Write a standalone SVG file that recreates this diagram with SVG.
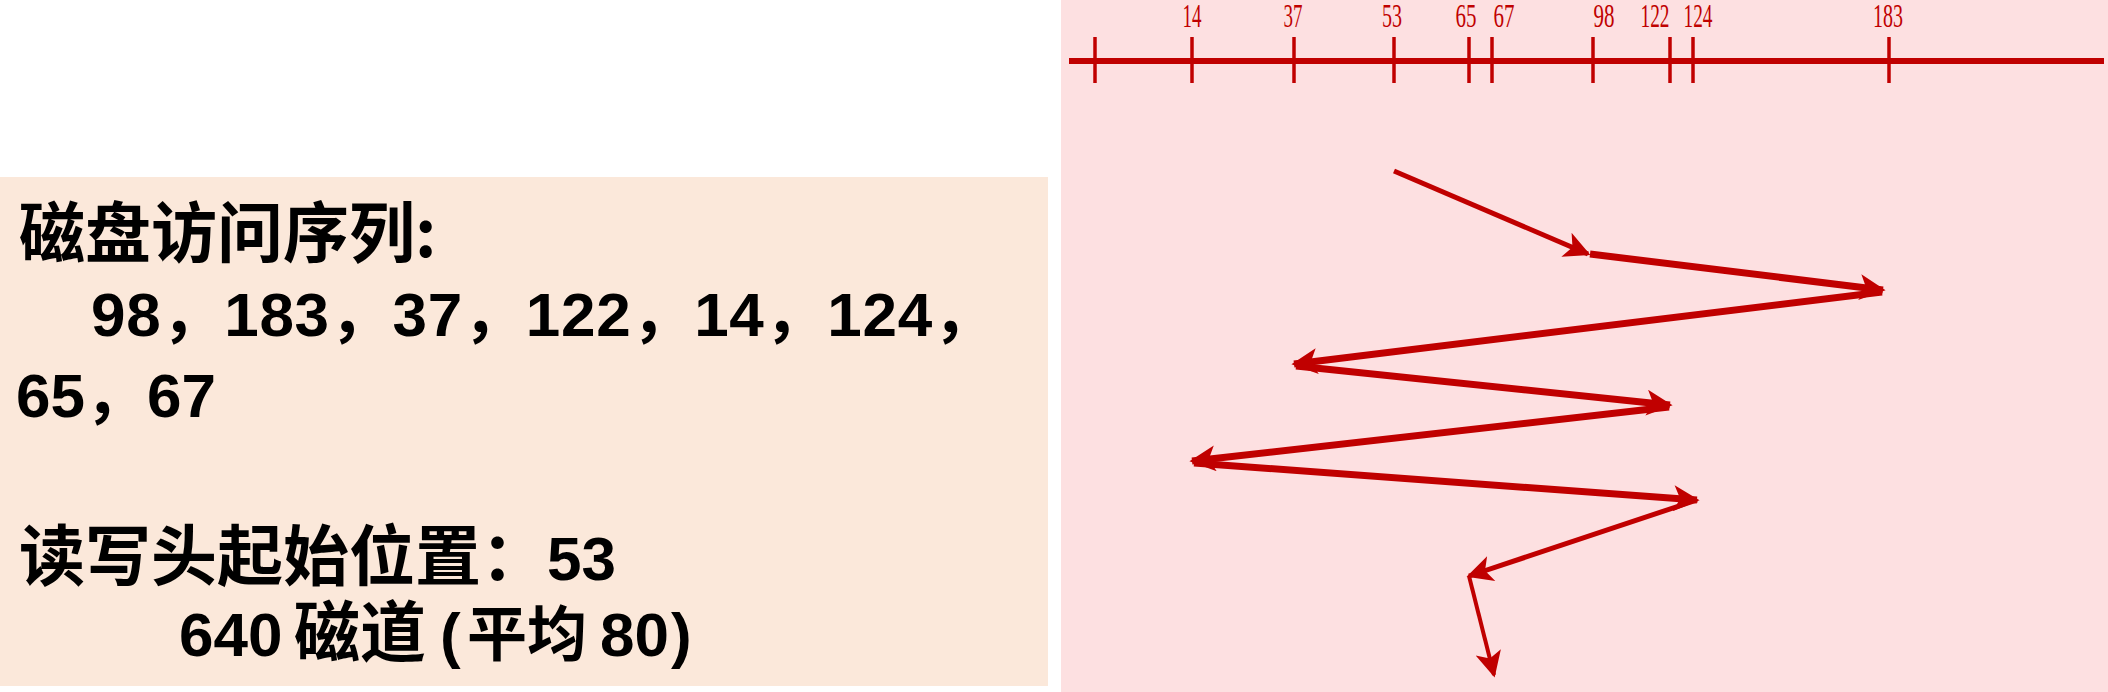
<svg xmlns="http://www.w3.org/2000/svg" width="2108" height="692" viewBox="0 0 2108 692">
<style>
.txt{font-family:"Liberation Sans","Noto Sans CJK SC",sans-serif;font-weight:bold;font-size:62px;fill:#000}
.cjk{font-family:"Noto Sans CJK SC",sans-serif;font-weight:bold;font-size:66px}
.cjk2{font-family:"Noto Sans CJK SC",sans-serif;font-weight:bold;font-size:60px}
.lbl{font-family:"Liberation Serif",serif;font-size:34px;fill:#C00000;text-anchor:middle}
.axis{stroke:#C00000;stroke-width:6;fill:none}
.tick{stroke:#C00000;stroke-width:3.5;fill:none}
.arr{stroke:#C00000;fill:none;stroke-linecap:butt}
</style>
<defs>
<marker id="ah" viewBox="0 0 10 10" refX="9" refY="5" markerUnits="userSpaceOnUse" markerWidth="32" markerHeight="26" orient="auto">
<path d="M0,0 L10,5 L0,10 L2.5,5 z" fill="#C00000"/>
</marker>
</defs>
<rect x="0" y="0" width="2108" height="692" fill="#fff"/>
<rect id="panel-left" x="0" y="177" width="1048" height="509" fill="#FBE8DA"/>
<rect id="panel-right" x="1061" y="0" width="1047" height="692" fill="#FDE0E1"/>

<g id="text-sequence">
<text class="txt" x="19" y="257"><tspan class="cjk">磁盘访问序列:</tspan></text>
<text class="txt" x="91" y="336" textLength="904" lengthAdjust="spacing">98，183，37，122，14，124，</text>
<text class="txt" x="16" y="417">65，67</text>
</g>
<g id="text-start">
<text class="txt" x="19" y="580"><tspan class="cjk">读写头起始位置：</tspan>53</text>
<text class="txt" y="656"><tspan x="179">640</tspan><tspan class="cjk" x="294">磁道</tspan><tspan x="440">(</tspan><tspan class="cjk2" x="467">平均</tspan><tspan x="600">80</tspan><tspan x="671">)</tspan></text>
</g>

<g id="axis">
<line class="axis" x1="1069" y1="61" x2="2104" y2="61"/>
<g id="ticks">
<line class="tick" x1="1095" y1="37" x2="1095" y2="83"/>
<line class="tick" x1="1192" y1="37" x2="1192" y2="83"/>
<line class="tick" x1="1294" y1="37" x2="1294" y2="83"/>
<line class="tick" x1="1394" y1="37" x2="1394" y2="83"/>
<line class="tick" x1="1469" y1="37" x2="1469" y2="83"/>
<line class="tick" x1="1492" y1="37" x2="1492" y2="83"/>
<line class="tick" x1="1593" y1="37" x2="1593" y2="83"/>
<line class="tick" x1="1670" y1="37" x2="1670" y2="83"/>
<line class="tick" x1="1693" y1="37" x2="1693" y2="83"/>
<line class="tick" x1="1889" y1="37" x2="1889" y2="83"/>
</g>
<g id="labels">
<text class="lbl" x="1192" y="27" textLength="19" lengthAdjust="spacingAndGlyphs">14</text>
<text class="lbl" x="1293" y="27" textLength="19" lengthAdjust="spacingAndGlyphs">37</text>
<text class="lbl" x="1392" y="27" textLength="20" lengthAdjust="spacingAndGlyphs">53</text>
<text class="lbl" x="1466" y="27" textLength="21" lengthAdjust="spacingAndGlyphs">65</text>
<text class="lbl" x="1504" y="27" textLength="21" lengthAdjust="spacingAndGlyphs">67</text>
<text class="lbl" x="1604" y="27" textLength="21" lengthAdjust="spacingAndGlyphs">98</text>
<text class="lbl" x="1655" y="27" textLength="29" lengthAdjust="spacingAndGlyphs">122</text>
<text class="lbl" x="1698" y="27" textLength="29" lengthAdjust="spacingAndGlyphs">124</text>
<text class="lbl" x="1888" y="27" textLength="30" lengthAdjust="spacingAndGlyphs">183</text>
</g>
</g>

<g id="connectors">
<line class="arr" stroke-width="5" x1="1394" y1="171" x2="1588" y2="254" marker-end="url(#ah)"/>
<line class="arr" stroke-width="7" x1="1590" y1="254" x2="1883" y2="290" marker-end="url(#ah)"/>
<line class="arr" stroke-width="7" x1="1882" y1="292" x2="1294" y2="364" marker-end="url(#ah)"/>
<line class="arr" stroke-width="7" x1="1296" y1="366" x2="1670" y2="405" marker-end="url(#ah)"/>
<line class="arr" stroke-width="7" x1="1669" y1="407" x2="1192" y2="461" marker-end="url(#ah)"/>
<line class="arr" stroke-width="7" x1="1194" y1="463" x2="1697" y2="500" marker-end="url(#ah)"/>
<line class="arr" stroke-width="5" x1="1697" y1="500" x2="1469" y2="576" marker-end="url(#ah)"/>
<line class="arr" stroke-width="4" x1="1469" y1="576" x2="1494" y2="675" marker-end="url(#ah)"/>
</g>
</svg>
